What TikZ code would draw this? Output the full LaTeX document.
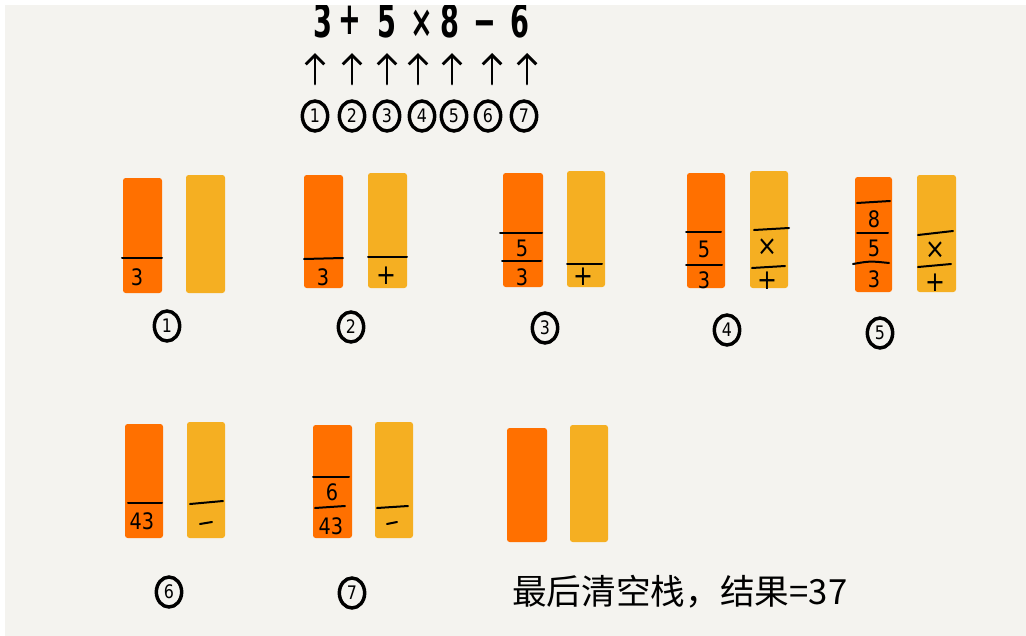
\documentclass[tikz,border=0pt]{standalone}
\usepackage{fontspec}
\setmainfont{Noto Sans}
\newfontfamily\cjk{Noto Sans CJK SC}
\newfontfamily\exprfont[FakeStretch=0.6]{DejaVu Sans}
\newfontfamily\dvfont[FakeStretch=0.85]{DejaVu Sans}
\usetikzlibrary{arrows.meta,fit,shapes.geometric}
\definecolor{bgc}{HTML}{F4F3EF}
\definecolor{orng}{HTML}{FF7000}
\definecolor{yell}{HTML}{F5AF22}
\begin{document}
\begin{tikzpicture}[x=0.75pt,y=-0.75pt,
 ostack/.style={fill=orng, inner sep=0pt, rounded corners=2pt},
 ystack/.style={fill=yell, inner sep=0pt, rounded corners=2pt},
 div/.style={line width=1.5pt, line cap=round},
 num/.style={font=\dvfont\fontsize{17}{17}\selectfont, inner sep=0pt},
 op/.style={font=\dvfont\fontsize{21}{21}\selectfont, inner sep=0pt},
 circ/.style={ellipse, draw, line width=2.6pt, minimum width=19pt, minimum height=22.5pt, inner sep=0pt, font=\dvfont\fontsize{14}{14}\selectfont},
 expr/.style={font=\exprfont\bfseries\fontsize{34}{34}\selectfont, inner sep=0pt, anchor=base},
 arr/.style={line width=2.2pt, line cap=round, -{Straight Barb[length=7pt,width=14pt,line width=2.2pt]}},
 cn/.style={font=\cjk\fontsize{26}{26}\selectfont, inner sep=0pt}
]
\useasboundingbox (0,0) rectangle (1026,636);
\fill[bgc] (0,0) rectangle (1026,636);

% expression
\node[expr] (t1) at (323,37) {3};
\node[expr] (t2) at (350,34) {+};
\node[expr] (t3) at (387,37) {5};
\node[expr] (t4) at (422,37) {×};
\node[expr] (t5) at (450,37) {8};
\node[expr] (t6) at (485,37) {−};
\node[expr] (t7) at (520,37) {6};

% white frame
\fill[white] (0,0) rectangle (1026,5);
\fill[white] (0,0) rectangle (5,636);

% arrows and step numbers
\foreach \i/\x/\nx in {1/315/315, 2/352/352, 3/387/387, 4/418/422, 5/452/454, 6/492/488, 7/527/524} {
  \coordinate (ab\i) at (\x,84);
  \coordinate (at\i) at (\x,53);
  \draw[arr] (ab\i) -- (at\i);
  \node[circ] (n\i) at (\nx,116) {\i};
}

% stack 1
\node[ostack, fit={(123,178) (162,293)}] (o1) {};
\node[ystack, fit={(186,175) (225,293)}] (y1) {};
\draw[div] (122,258) -- (162,258);
\node[num] (o1a) at (137,277) {3};
\node[circ] (l1) at (167,326) {1};

% stack 2
\node[ostack, fit={(304,175) (343,288)}] (o2) {};
\node[ystack, fit={(368,173) (407,288)}] (y2) {};
\draw[div] (304,259) -- (343,258);
\draw[div] (368,257) -- (407,257);
\node[num] (o2a) at (323,277) {3};
\node[op] (y2a) at (386,276) {+};
\node[circ] (l2) at (351,327) {2};

% stack 3
\node[ostack, fit={(503,173) (543,287)}] (o3) {};
\node[ystack, fit={(567,171) (605,287)}] (y3) {};
\draw[div] (500,233) -- (542,233);
\draw[div] (502,261) -- (541,261);
\draw[div] (567,264) -- (602,264);
\node[num] (o3a) at (522,277) {3};
\node[num] (o3b) at (522,248) {5};
\node[op] (y3a) at (583,277) {+};
\node[circ] (l3) at (545,328) {3};

% stack 4
\node[ostack, fit={(687,173) (725,288)}] (o4) {};
\node[ystack, fit={(750,171) (788,288)}] (y4) {};
\draw[div] (686,232) -- (721,232);
\draw[div] (686,265) -- (722,265);
\draw[div] (754,230) -- (789,228);
\draw[div] (752,268) -- (785,266);
\node[num] (o4a) at (704,280) {3};
\node[num] (o4b) at (704,249) {5};
\node[op] (y4a) at (767,281) {+};
\node[op] (y4b) at (767,247) {×};
\node[circ] (l4) at (727,330) {4};

% stack 5
\node[ostack, fit={(855,177) (892,292)}] (o5) {};
\node[ystack, fit={(917,175) (956,292)}] (y5) {};
\draw[div] (857,203) -- (890,201);
\draw[div] (857,233) -- (888,233);
\draw[div] (853,264) .. controls (870,261) .. (889,263);
\draw[div] (918,235) -- (953,231);
\draw[div] (918,267) -- (951,264);
\node[num] (o5a) at (874,279) {3};
\node[num] (o5b) at (874,248) {5};
\node[num] (o5c) at (874,219) {8};
\node[op] (y5a) at (935,283) {+};
\node[op] (y5b) at (935,250) {×};
\node[circ] (l5) at (880,333) {5};

% stack 6
\node[ostack, fit={(125,424) (163,538)}] (o6) {};
\node[ystack, fit={(187,422) (225,538)}] (y6) {};
\draw[div] (128,503) -- (162,503);
\draw[div] (190,504) -- (223,501);
\draw[div] (200,524) -- (212,522);
\node[num] (o6a) at (142,521) {43};
\node[circ] (l6) at (169,592) {6};

% stack 7
\node[ostack, fit={(313,425) (352,538)}] (o7) {};
\node[ystack, fit={(375,422) (413,538)}] (y7) {};
\draw[div] (313,477) -- (349,477);
\draw[div] (315,508) -- (345,506);
\draw[div] (377,508) -- (408,506);
\draw[div] (387,524) -- (397,522);
\node[num] (o7a) at (331,526) {43};
\node[num] (o7b) at (332,492) {6};
\node[circ] (l7) at (352,593) {7};

% stack 8 (empty)
\node[ostack, fit={(507,428) (547,542)}] (o8) {};
\node[ystack, fit={(570,425) (608,542)}] (y8) {};

% result text
\node[cn, anchor=west] (res) at (512,592) {最后清空栈，结果=37};
\end{tikzpicture}
\end{document}
